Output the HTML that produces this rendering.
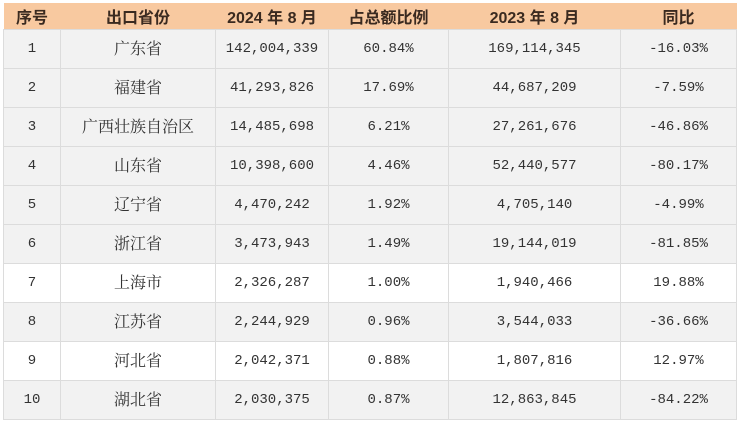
<!DOCTYPE html>
<html><head><meta charset="utf-8"><style>
body{margin:0;width:740px;height:421px;background:#fff;overflow:hidden}
table{position:absolute;left:3px;top:3px;border-collapse:collapse;table-layout:fixed;width:733px}
td,th{text-align:center;padding:0;border:1px solid #dcdcdc;font-family:"Liberation Mono","Noto Serif CJK SC",monospace;font-size:14px;color:#333;height:38px;vertical-align:middle}
td.c span{font-family:"Noto Serif CJK SC",serif;font-size:16px;line-height:16px;display:inline-block;vertical-align:middle;position:relative;top:-1px}
th{background:#f8c9a0;height:26px;font-family:"Liberation Sans","Noto Sans CJK SC",sans-serif;font-weight:bold;font-size:16px;color:#3a2a20;border:none}
tr.g td{background:#f2f2f2}
</style></head><body>
<table>
<colgroup><col style="width:57px"><col style="width:155px"><col style="width:113px"><col style="width:120px"><col style="width:172px"><col style="width:116px"></colgroup>
<tr><th>序号</th><th>出口省份</th><th>2024 年 8 月</th><th>占总额比例</th><th>2023 年 8 月</th><th>同比</th></tr>
<tr class="g"><td>1</td><td class="c"><span>广东省</span></td><td>142,004,339</td><td>60.84%</td><td>169,114,345</td><td>-16.03%</td></tr>
<tr class="g"><td>2</td><td class="c"><span>福建省</span></td><td>41,293,826</td><td>17.69%</td><td>44,687,209</td><td>-7.59%</td></tr>
<tr class="g"><td>3</td><td class="c"><span>广西壮族自治区</span></td><td>14,485,698</td><td>6.21%</td><td>27,261,676</td><td>-46.86%</td></tr>
<tr class="g"><td>4</td><td class="c"><span>山东省</span></td><td>10,398,600</td><td>4.46%</td><td>52,440,577</td><td>-80.17%</td></tr>
<tr class="g"><td>5</td><td class="c"><span>辽宁省</span></td><td>4,470,242</td><td>1.92%</td><td>4,705,140</td><td>-4.99%</td></tr>
<tr class="g"><td>6</td><td class="c"><span>浙江省</span></td><td>3,473,943</td><td>1.49%</td><td>19,144,019</td><td>-81.85%</td></tr>
<tr><td>7</td><td class="c"><span>上海市</span></td><td>2,326,287</td><td>1.00%</td><td>1,940,466</td><td>19.88%</td></tr>
<tr class="g"><td>8</td><td class="c"><span>江苏省</span></td><td>2,244,929</td><td>0.96%</td><td>3,544,033</td><td>-36.66%</td></tr>
<tr><td>9</td><td class="c"><span>河北省</span></td><td>2,042,371</td><td>0.88%</td><td>1,807,816</td><td>12.97%</td></tr>
<tr class="g"><td>10</td><td class="c"><span>湖北省</span></td><td>2,030,375</td><td>0.87%</td><td>12,863,845</td><td>-84.22%</td></tr>
</table>
</body></html>
